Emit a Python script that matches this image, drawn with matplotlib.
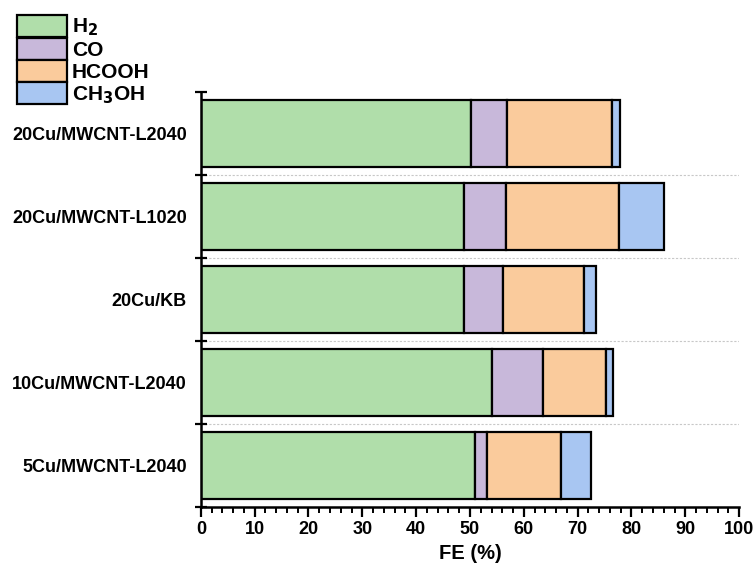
import numpy as np
import matplotlib
matplotlib.use("Agg")
import matplotlib.pyplot as plt
from matplotlib.ticker import MultipleLocator

plt.rcParams['font.family'] = ['Liberation Sans', 'DejaVu Sans']
plt.rcParams['font.weight'] = 'bold'
plt.rcParams['mathtext.default'] = 'bf'

# catalysts, top to bottom
catalysts = [
    "20Cu/MWCNT-L2040",
    "20Cu/MWCNT-L1020",
    "20Cu/KB",
    "10Cu/MWCNT-L2040",
    "5Cu/MWCNT-L2040",
]

# Faradaic efficiencies (%)
fe_h2 = [50.2, 48.9, 48.9, 54.0, 50.9]
fe_co = [6.7, 7.7, 7.3, 9.5, 2.3]
fe_hcooh = [19.4, 21.1, 14.9, 11.8, 13.7]
fe_ch3oh = [1.6, 8.4, 2.4, 1.3, 5.5]

products = ["H$_2$", "CO", "HCOOH", "CH$_3$OH"]
colors = ["#B0DEAA", "#C8B8DA", "#FACB9C", "#A8C6F2"]

fig = plt.figure(figsize=(7.55, 5.65), dpi=100)
ax = fig.add_axes([0.266, 0.103, 0.713, 0.734])

ypos = np.arange(len(catalysts))[::-1]
left = np.zeros(len(catalysts))
handles = []
for vals, col, name in zip([fe_h2, fe_co, fe_hcooh, fe_ch3oh], colors, products):
    vals = np.array(vals)
    b = ax.barh(ypos, vals, left=left, height=0.81, color=col,
                edgecolor="black", linewidth=1.6, label=name)
    handles.append(b)
    left += vals

# dotted separators between rows
for yb in [0.5, 1.5, 2.5, 3.5]:
    ax.axhline(yb, color="#c8c8c8", linestyle=(0, (2, 1.5)), linewidth=0.8, zorder=0)

ax.set_xlim(0, 100)
ax.set_ylim(-0.5, 4.5)
ax.xaxis.set_major_locator(MultipleLocator(10))
ax.xaxis.set_minor_locator(MultipleLocator(2))
ax.tick_params(axis="x", which="major", length=7, width=1.6, direction="out", labelsize=13)
ax.tick_params(axis="x", which="minor", length=4, width=1.4, direction="out")

ax.set_yticks(ypos)
ax.set_yticklabels(catalysts)
ax.set_yticks(np.arange(-0.5, 5.0, 1.0), minor=True)
ax.tick_params(axis="y", which="major", length=0, pad=10, labelsize=13)
ax.tick_params(axis="y", which="minor", length=8, width=1.6, direction="inout")

for s in ["top", "right"]:
    ax.spines[s].set_visible(False)
for s in ["left", "bottom"]:
    ax.spines[s].set_linewidth(1.8)

ax.set_xlabel("FE (%)", fontsize=14.5, fontweight="bold", labelpad=4)

fig.legend(handles=handles, labels=products, loc="upper left",
           bbox_to_anchor=(0.003, 1.0), frameon=False, fontsize=15,
           handlelength=2.4, handleheight=1.25, labelspacing=0.0,
           handletextpad=0.25, borderpad=0.2)

fig.savefig("out.png", dpi=100)
plt.close(fig)
